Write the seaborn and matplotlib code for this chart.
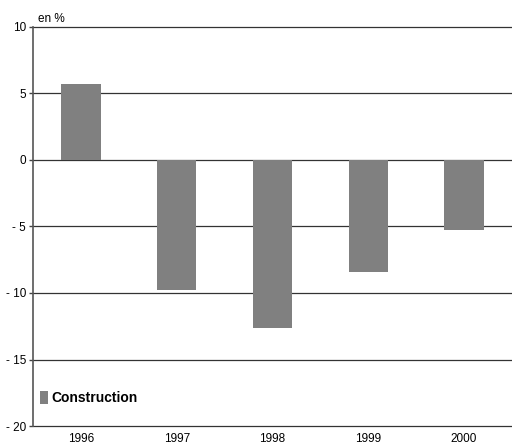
import matplotlib
matplotlib.use("Agg")
import matplotlib.pyplot as plt
import seaborn as sns
import pandas as pd

# Data
years = ["1996", "1997", "1998", "1999", "2000"]
construction = [5.7, -9.8, -12.6, -8.4, -5.3]
yticks = [10, 5, 0, -5, -10, -15, -20]
ytick_labels = ["10", "5", "0", "- 5", "- 10", "- 15", "- 20"]

sns.set_style("white")
plt.rcParams['font.family'] = ['Liberation Sans', 'DejaVu Sans']

df = pd.DataFrame({"Année": years, "Construction": construction})

fig = plt.figure(figsize=(5.12, 4.48), dpi=100)
ax = fig.add_axes([0.0645, 0.049, 0.9355, 0.891])

# Grid lines
for v in yticks:
    ax.axhline(v, color="#333333", linewidth=0.9, zorder=0, clip_on=False)

sns.barplot(data=df, x="Année", y="Construction", color="#808080",
            saturation=1, width=0.41, ax=ax, zorder=2, label="Construction",
            edgecolor="#808080", linewidth=0)

ax.set_ylim(-20, 10)
ax.set_xlim(-0.5, 4.5)
ax.set_yticks(yticks)
ax.set_yticklabels(ytick_labels, fontsize=8.5, color="black")
ax.set_xlabel("")
ax.set_ylabel("")
ax.tick_params(axis="x", labelsize=8.5, labelcolor="black", length=0, pad=5)
ax.tick_params(axis="y", left=True, length=3, width=1, color="#444444", pad=2)

for side in ["top", "right", "bottom"]:
    ax.spines[side].set_visible(False)
ax.spines["left"].set_color("#555555")
ax.spines["left"].set_linewidth(1.2)

ax.text(0.01, 1.005, "en %", transform=ax.transAxes, fontsize=8.5,
        va="bottom", ha="left", color="black")

leg = ax.legend(loc="center left", bbox_to_anchor=(0.0, 0.07), frameon=False,
                handlelength=0.6, handleheight=1.1, handletextpad=0.2,
                borderaxespad=0.1, prop={"size": 10, "weight": "bold"})
for t in leg.get_texts():
    t.set_color("black")

fig.savefig("out.png", dpi=100)
